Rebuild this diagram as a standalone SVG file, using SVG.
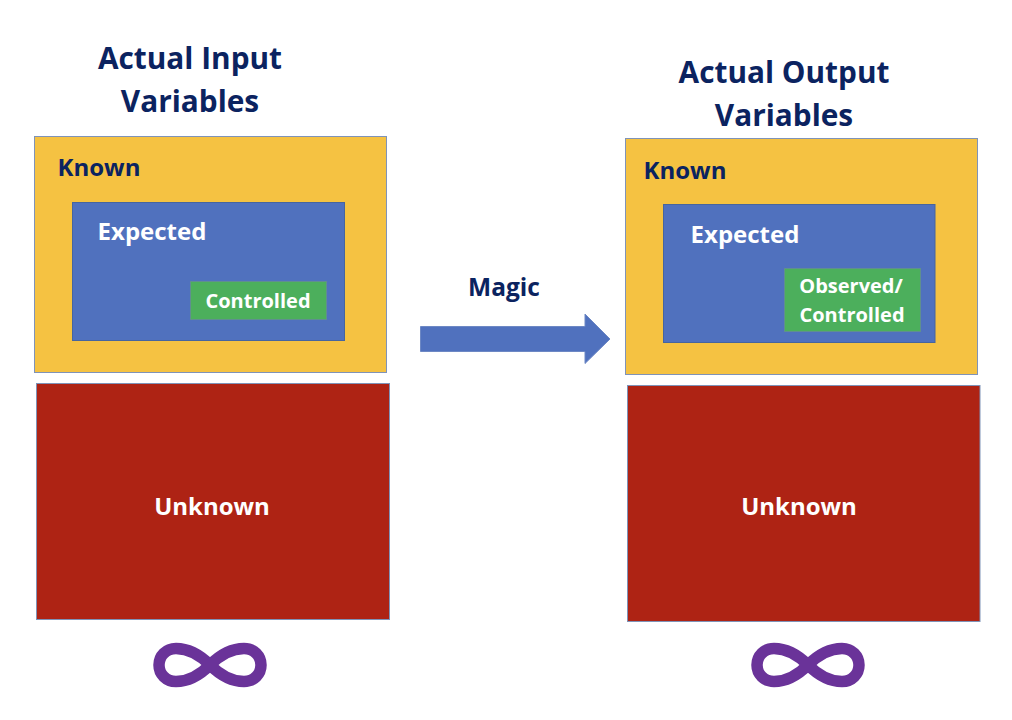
<svg xmlns="http://www.w3.org/2000/svg" width="1012" height="720" viewBox="0 0 1012 720">
<style>
text{font-family:"Open Sans","Liberation Sans",sans-serif;font-weight:700;text-anchor:middle}
.n{fill:#0b2360}.w{fill:#fff}
.y{fill:#f5c242;stroke:#7f93b8;stroke-width:1}
.b{fill:#5071be;stroke:#46659f;stroke-width:1}
.g{fill:#4caf5c;stroke:#5f8f8f;stroke-width:1}
.r{fill:#ae2314;stroke:#7f93b8;stroke-width:1}
.inf{fill:none;stroke:#6a3399;stroke-width:11.500}
</style>
<rect width="1012" height="720" fill="#fff"/>
<g id="input-title"><text class="n" font-size="29.800"><tspan x="190" y="69">Actual Input</tspan><tspan x="190" y="112">Variables</tspan></text></g>
<g id="output-title"><text class="n" font-size="29.800"><tspan x="784" y="83">Actual Output</tspan><tspan x="784" y="126">Variables</tspan></text></g>
<g id="input-known"><rect class="y" x="34.500" y="136.500" width="352" height="236"/><text class="n" x="99" y="176" font-size="24">Known</text></g>
<g id="input-expected"><rect class="b" x="72.500" y="202.500" width="272" height="138"/><text class="w" x="152" y="240" font-size="24">Expected</text></g>
<g id="input-controlled"><rect class="g" x="190.500" y="281.500" width="136" height="38"/><text class="w" x="258" y="308" font-size="20">Controlled</text></g>
<g id="input-unknown"><rect class="r" x="36.500" y="383.500" width="353" height="236"/><text class="w" x="212" y="515" font-size="24">Unknown</text></g>
<g id="input-infinity"><path class="inf" d="M210 665C197 652 186 648.500 176 648.500C166 648.500 159 656 159 665C159 674 166 681.500 176 681.500C186 681.500 197 678 210 665C223 652 234 648.500 244 648.500C254 648.500 261 656 261 665C261 674 254 681.500 244 681.500C234 681.500 223 678 210 665Z"/></g>
<g id="output-known"><rect class="y" x="625.500" y="138.500" width="352" height="236"/><text class="n" x="685" y="179" font-size="24">Known</text></g>
<g id="output-expected"><rect class="b" x="663.500" y="204.500" width="271.500" height="138"/><text class="w" x="745" y="243" font-size="24">Expected</text></g>
<g id="output-controlled"><rect class="g" x="784.500" y="268.500" width="136" height="63"/><text class="w" font-size="20"><tspan x="851" y="293">Observed/</tspan><tspan x="852" y="322">Controlled</tspan></text></g>
<g id="output-unknown"><rect class="r" x="627.500" y="385.500" width="352.500" height="236"/><text class="w" x="799" y="515" font-size="24">Unknown</text></g>
<g id="output-infinity"><path class="inf" d="M808 665C795 652 784 648.500 774 648.500C764 648.500 757 656 757 665C757 674 764 681.500 774 681.500C784 681.500 795 678 808 665C821 652 832 648.500 842 648.500C852 648.500 859 656 859 665C859 674 852 681.500 842 681.500C832 681.500 821 678 808 665Z"/></g>
<g id="connectors"><path d="M420.500 326.500H585V314L610 339L585 363.500V351.500H420.500Z" fill="#5071be" stroke="#6d88c4"/><text class="n" x="504" y="296" font-size="24.500">Magic</text></g>
</svg>
